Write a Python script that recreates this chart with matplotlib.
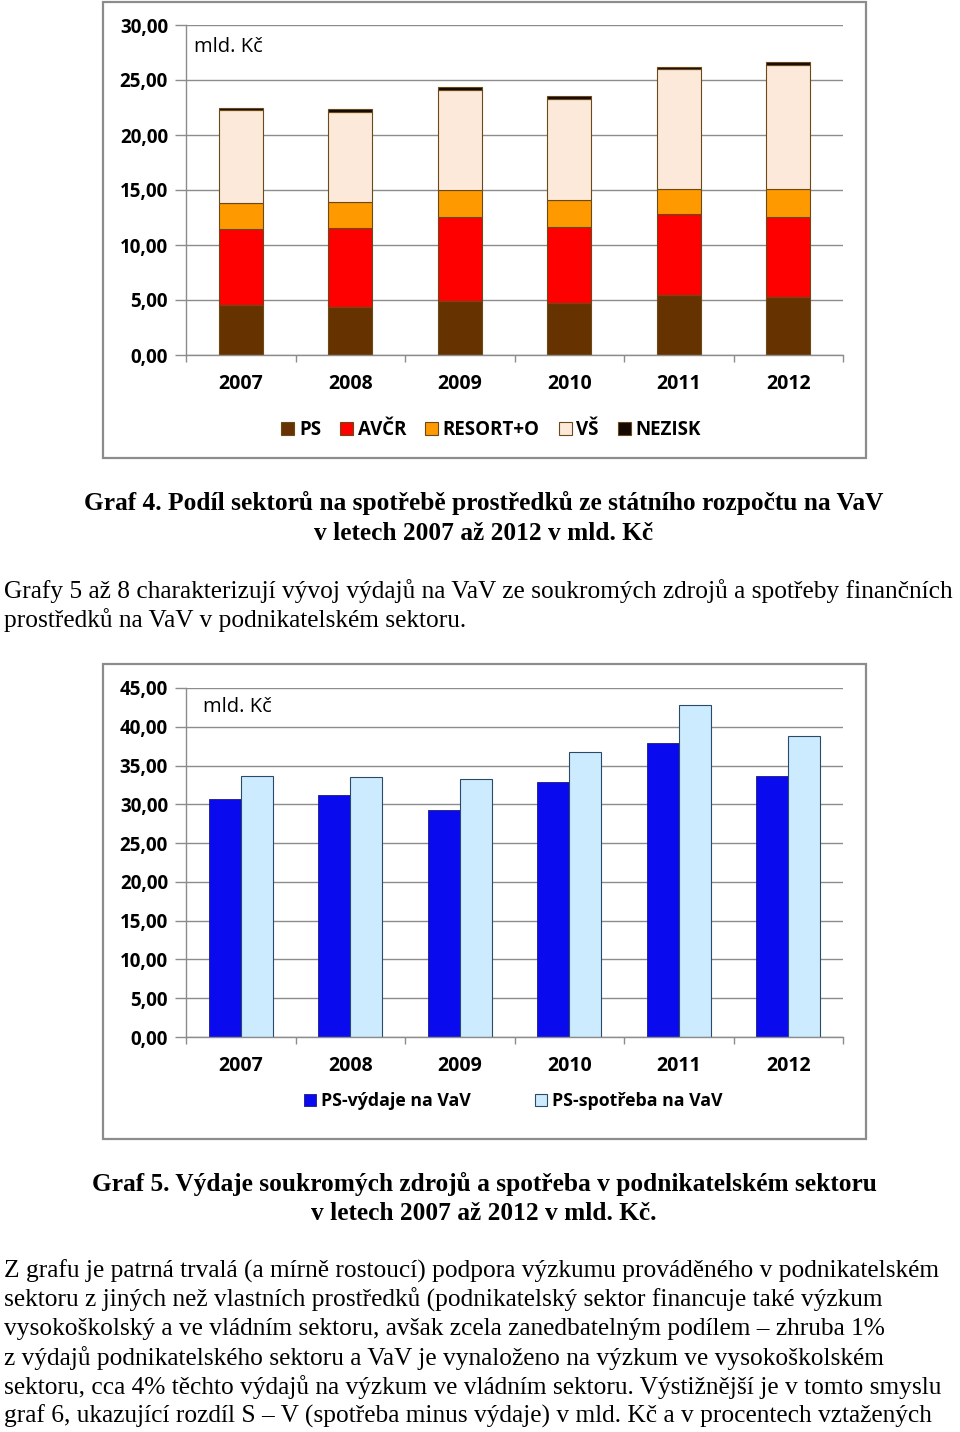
import matplotlib
matplotlib.use("Agg")
import matplotlib.pyplot as plt
import numpy as np
from matplotlib.patches import Rectangle

W, H = 960, 1432
DPI = 100

years = ["2007", "2008", "2009", "2010", "2011", "2012"]

# Graf 4 – stacked shares (mld. Kč)
ps = [4.55, 4.37, 4.92, 4.74, 5.47, 5.28]
avcr = [6.90, 7.17, 7.65, 6.89, 7.38, 7.29]
resort = [2.34, 2.37, 2.40, 2.43, 2.24, 2.52]
vs = [8.44, 8.20, 9.14, 9.23, 10.90, 11.27]
nezisk = [0.21, 0.21, 0.24, 0.24, 0.22, 0.30]
series4_names = ["PS", "AVČR", "RESORT+O", "VŠ", "NEZISK"]
series4_colors = ["#663300", "#FF0000", "#FF9900", "#FDE9D9", "#140800"]

# Graf 5 – grouped bars (mld. Kč)
ps_vydaje = [30.68, 31.24, 29.27, 32.92, 37.90, 33.69]
ps_spotreba = [33.69, 33.56, 33.31, 36.75, 42.76, 38.81]
series5_names = ["PS-výdaje na VaV", "PS-spotřeba na VaV"]

ticks4 = [0, 5, 10, 15, 20, 25, 30]
ticks5 = [0, 5, 10, 15, 20, 25, 30, 35, 40, 45]

fig = plt.figure(figsize=(W / DPI, H / DPI), dpi=DPI)
fig.patch.set_facecolor("white")

def fx(x):
    return x / W

def fy(y):
    return 1 - y / H

def axes_px(l, t, r, b):
    return fig.add_axes([fx(l), fy(b), fx(r) - fx(l), fy(t) - fy(b)])

def frame(l, t, r, b):
    fig.patches.append(Rectangle((fx(l), fy(b)), fx(r) - fx(l), fy(t) - fy(b),
                                 transform=fig.transFigure, fill=False,
                                 edgecolor="#8c8c8c", linewidth=1.6))

CH = "Open Sans"
SERIF = "Liberation Serif"
GRID = "#8c8c8c"

def style_axes(ax, ymax, ticks):
    ax.set_xlim(-0.5, 5.5)
    ax.set_ylim(0, ymax)
    ax.set_yticks(ticks)
    ax.set_yticklabels([f"{t:.2f}".replace(".", ",") for t in ticks],
                       fontfamily=CH, fontweight="bold", fontsize=13.5)
    ax.set_xticks(range(6))
    ax.set_xticklabels(years, fontfamily=CH, fontweight="bold", fontsize=14)
    ax.set_xticks(np.arange(-0.5, 6.0, 1.0), minor=True)
    ax.tick_params(axis="x", which="major", length=0, pad=14)
    ax.tick_params(axis="x", which="minor", length=5, color=GRID, width=1)
    ax.tick_params(axis="y", length=8, color=GRID, width=1, pad=5)
    ax.grid(axis="y", color=GRID, linewidth=1)
    ax.set_axisbelow(True)
    for s in ["top", "right"]:
        ax.spines[s].set_visible(False)
    for s in ["left", "bottom"]:
        ax.spines[s].set_color(GRID)
        ax.spines[s].set_linewidth(1)
    ax.set_facecolor("none")

# ---------- Graf 4 ----------
frame(103, 2, 866, 458)
ax1 = axes_px(186, 25, 843, 355)
style_axes(ax1, 30, ticks4)
x = np.arange(6)
bottom = np.zeros(6)
handles = []
for vals, name, col in zip([ps, avcr, resort, vs, nezisk], series4_names, series4_colors):
    h = ax1.bar(x, vals, width=0.4, bottom=bottom, color=col,
                edgecolor="#6b4a1a", linewidth=0.8, label=name)
    bottom += np.array(vals)
    handles.append(h)
fig.text(fx(194), fy(47), "mld. Kč", fontfamily=CH, fontsize=14.5, va="center", ha="left")
fig.legend(handles=handles, labels=series4_names, loc="center",
           bbox_to_anchor=(fx(491), fy(430)), ncol=5, frameon=False,
           prop={"family": CH, "weight": "bold", "size": 13.5},
           handlelength=0.7, handleheight=0.7, handletextpad=0.25,
           columnspacing=1.0)

# ---------- Graf 5 ----------
frame(103, 664, 866, 1139)
ax2 = axes_px(186, 688, 843, 1037)
style_axes(ax2, 45, ticks5)
bw = 0.29
h1 = ax2.bar(x - bw / 2, ps_vydaje, width=bw, color="#0A0AEE",
             edgecolor="#1a1a80", linewidth=0.6, label=series5_names[0])
h2 = ax2.bar(x + bw / 2, ps_spotreba, width=bw, color="#CCEBFF",
             edgecolor="#2a4a6a", linewidth=0.8, label=series5_names[1])
fig.text(fx(203), fy(707), "mld. Kč", fontfamily=CH, fontsize=14.5, va="center", ha="left")
fig.legend(handles=[h1, h2], labels=series5_names, loc="center",
           bbox_to_anchor=(fx(513), fy(1101)), ncol=2, frameon=False,
           prop={"family": CH, "weight": "bold", "size": 12.8},
           handlelength=0.7, handleheight=0.7, handletextpad=0.25,
           columnspacing=3.6)

# ---------- document text ----------
def cap(y, s):
    fig.text(fx(484), fy(y), s, fontfamily=SERIF, fontweight="bold", fontsize=18.3,
             ha="center", va="center")

cap(503, "Graf 4. Podíl sektorů na spotřebě prostředků ze státního rozpočtu na VaV")
cap(533, "v letech 2007 až 2012 v mld. Kč")
cap(1184, "Graf 5. Výdaje soukromých zdrojů a spotřeba v podnikatelském sektoru")
cap(1213, "v letech 2007 až 2012 v mld. Kč.")

def para(y, s):
    fig.text(fx(4), fy(y), s, fontfamily=SERIF, fontsize=18.3, ha="left", va="center")

para(591, "Grafy 5 až 8 charakterizují vývoj výdajů na VaV ze soukromých zdrojů a spotřeby finančních")
para(620, "prostředků na VaV v podnikatelském sektoru.")
lines = [
    "Z grafu je patrná trvalá (a mírně rostoucí) podpora výzkumu prováděného v podnikatelském",
    "sektoru z jiných než vlastních prostředků (podnikatelský sektor financuje také výzkum",
    "vysokoškolský a ve vládním sektoru, avšak zcela zanedbatelným podílem – zhruba 1%",
    "z výdajů podnikatelského sektoru a VaV je vynaloženo na výzkum ve vysokoškolském",
    "sektoru, cca 4% těchto výdajů na výzkum ve vládním sektoru. Výstižnější je v tomto smyslu",
    "graf 6, ukazující rozdíl S – V (spotřeba minus výdaje) v mld. Kč a v procentech vztažených",
]
for i, s in enumerate(lines):
    para(1271 + 29 * i, s)

fig.savefig("out.png", dpi=DPI, facecolor="white")
